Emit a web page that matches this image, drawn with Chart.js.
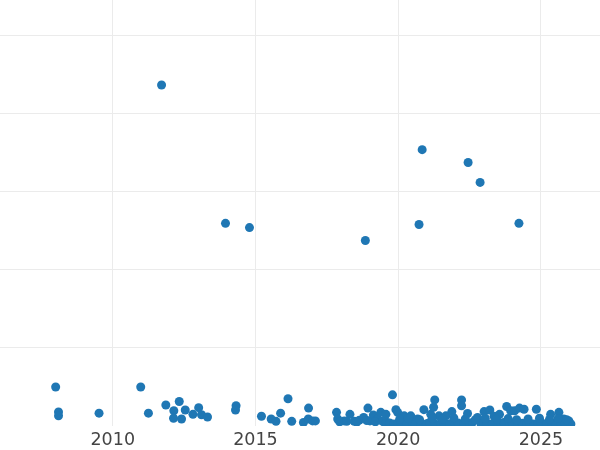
<!DOCTYPE html>
<html>
<head>
<meta charset="utf-8">
<script src="https://cdn.jsdelivr.net/npm/chart.js@4"></script>
<style>
  html, body { margin: 0; padding: 0; background: #fff; }
  #wrap { width: 600px; height: 450px; }
</style>
</head>
<body>
<div id="wrap"><canvas id="myChart" width="600" height="450"></canvas></div>
<script>
// years (decimal) and values
const years = [
  2011.71, 2013.95, 2014.79, 2018.85, 2020.84, 2020.73, 2022.45, 2022.87, 2024.23,
  2008.0, 2008.1, 2008.1, 2009.52, 2010.98, 2011.25, 2011.86, 2012.33, 2012.14, 2012.13,
  2012.41, 2012.54, 2012.81, 2013.01, 2013.11, 2013.32, 2014.32, 2014.30, 2015.21, 2015.55,
  2015.72, 2015.88, 2016.14, 2016.27, 2016.68, 2016.86, 2016.85, 2017.0, 2017.1, 2017.84,
  2017.88, 2018.11, 2018.31, 2018.46, 2018.64, 2018.79, 2018.94, 2019.01, 2019.13, 2019.28,
  2019.39, 2019.57, 2019.57, 2019.80, 2019.92, 2019.98, 2020.21, 2020.44, 2020.68, 2020.90,
  2021.14, 2021.28, 2021.24, 2021.43, 2021.67, 2021.88, 2022.22, 2022.22, 2022.43, 2022.78,
  2023.01, 2023.21, 2023.36, 2023.55, 2023.80, 2023.94, 2024.08, 2024.25, 2024.41, 2024.84,
  2025.34, 2025.63, 2025.80, 2025.98,
  2017.95, 2018.2, 2018.55, 2018.9, 2019.2, 2019.45,
  2019.55, 2019.7, 2019.85, 2020.0, 2020.1, 2020.3, 2020.5, 2020.6, 2020.8, 2021.0,
  2021.1, 2021.3, 2021.5, 2021.6, 2021.8, 2022.0, 2022.1, 2022.3, 2022.5, 2022.6,
  2022.9, 2023.0, 2023.1, 2023.3, 2023.5, 2023.6, 2023.7, 2023.9, 2024.0, 2024.2,
  2024.35, 2024.5, 2024.6, 2024.75, 2024.9, 2025.0, 2025.2, 2025.4, 2025.5, 2025.7,
  2025.85, 2026.05,
  2020.05, 2020.35, 2020.75, 2021.2, 2021.55, 2021.95, 2022.35, 2022.7, 2023.05, 2023.45,
  2023.85, 2024.15, 2024.55, 2024.95, 2025.3, 2025.6, 2025.9
];
const values = [
  87.3, 51.8, 50.7, 47.4, 70.7, 51.5, 67.4, 62.3, 51.8,
  9.8, 3.4, 2.4, 3.1, 9.8, 3.1, 5.2, 6.1, 3.7, 1.8,
  1.6, 3.9, 2.8, 4.5, 2.7, 2.1, 5.0, 3.9, 2.3, 1.6,
  1.0, 3.1, 6.8, 1.0, 0.7, 4.4, 1.6, 1.1, 1.1, 3.3,
  1.6, 1.1, 2.8, 1.0, 1.3, 2.0, 4.4, 1.1, 2.6, 1.6,
  3.3, 0.9, 2.8, 7.8, 4.0, 3.3, 2.4, 2.4, 1.6, 4.0,
  2.8, 6.5, 4.6, 2.4, 2.4, 3.5, 6.5, 5.0, 3.0, 2.0,
  3.5, 3.9, 2.3, 2.8, 4.8, 3.7, 3.7, 4.4, 4.1, 4.1,
  2.8, 3.3, 1.6, 1.1,
  0.9, 1.0, 0.8, 1.2, 0.9, 1.0,
  0.4, 0.6, 0.3, 0.5, 0.7, 0.4, 0.6, 0.3, 0.5, 0.4,
  0.7, 0.3, 0.5, 0.6, 0.4, 0.3, 0.6, 0.5, 0.4, 0.7,
  0.3, 0.5, 0.6, 0.4, 0.3, 0.5, 0.7, 0.4, 0.6, 0.3,
  0.5, 0.4, 0.6, 0.3, 0.5, 0.7, 0.4, 0.3, 0.6, 0.5,
  0.4, 0.3,
  1.5, 1.8, 1.4, 1.7, 1.5, 1.9, 1.6, 1.4, 1.8, 1.5,
  1.7, 1.4, 1.6, 1.8, 1.5, 1.7, 1.4
];
const xTicks = [2010, 2015, 2020, 2025];
const yGrid = [20, 40, 60, 80, 100];

const points = years.map((y, i) => ({ x: y, y: values[i] }));

const ctx = document.getElementById('myChart');

new Chart(ctx, {
    type: 'scatter',
    data: {
        datasets: [{
            data: points,
            backgroundColor: '#1f77b4',
            borderWidth: 0,
            pointRadius: 4.5,
            pointHoverRadius: 4.5,
            clip: 0
        }]
    },
    options: {
        responsive: false,
        animation: false,
        events: [],
        layout: { padding: { top: 0, left: 0, right: 0, bottom: -5 }, autoPadding: false },
        plugins: {
            legend: { display: false },
            tooltip: { enabled: false }
        },
        scales: {
            x: {
                type: 'linear',
                min: 2006.05,
                max: 2027.07,
                afterBuildTicks: axis => { axis.ticks = xTicks.map(v => ({ value: v })); },
                grid: { color: '#ebebeb', drawTicks: false },
                border: { display: false },
                ticks: {
                    autoSkip: false,
                    maxRotation: 0,
                    padding: 4,
                    color: '#444',
                    font: { family: '"DejaVu Sans", sans-serif', size: 17.5 },
                    callback: v => String(v)
                }
            },
            y: {
                min: -0.2,
                max: 109.1,
                afterBuildTicks: axis => { axis.ticks = yGrid.map(v => ({ value: v })); },
                grid: { color: '#ebebeb', drawTicks: false },
                border: { display: false },
                ticks: { display: false }
            }
        }
    }
});
</script>
</body>
</html>
